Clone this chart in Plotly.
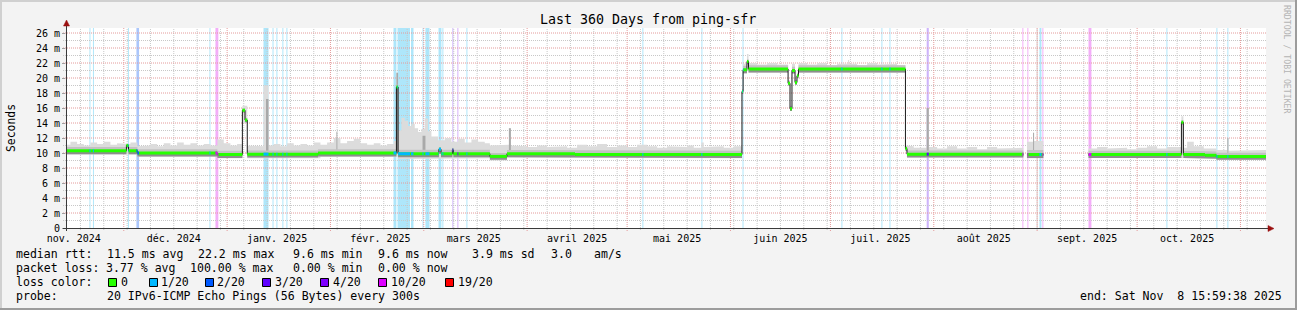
import pandas as pd
import plotly.graph_objects as go

FONT = "DejaVu Sans Mono"
T_START = "2024-11-13 16:00"
T_END = "2025-11-08 16:00"
Y_TOP = 26.667

# ---------------- data ----------------
# median rtt (ms), step function; None = no data
median_t = [
    "2024-11-13 16:00", "2024-12-01 19:00", "2024-12-02 10:00", "2024-12-05 02:00",
    "2024-12-29 02:00", "2025-01-05 14:00", "2025-01-06 09:00", "2025-01-07 01:00",
    "2025-01-28 07:00", "2025-02-20 19:00", "2025-02-21 07:00", "2025-03-05 13:00",
    "2025-03-06 04:00", "2025-03-09 14:00", "2025-03-09 21:00", "2025-03-20 20:00",
    "2025-03-25 23:00", "2025-04-15 09:00", "2025-06-04 11:00", "2025-06-04 19:00",
    "2025-06-05 23:00", "2025-06-06 10:00", "2025-06-18 07:00", "2025-06-18 21:00",
    "2025-06-19 11:00", "2025-06-20 09:00", "2025-06-20 23:00", "2025-06-21 10:00",
    "2025-07-23 12:00", "2025-07-23 23:00", "2025-08-27 21:00", "2025-08-28 23:00",
    "2025-09-02 21:00", "2025-09-16 10:00", "2025-10-14 07:00", "2025-10-14 21:00",
    "2025-10-21 09:00", "2025-10-24 19:00",
]
median_ms = [
    10.3, 11.0, 10.3, 10.0,
    9.8, 15.7, 14.4, 9.85,
    10.0, 18.8, 9.9, 10.5,
    9.9, 10.4, 9.9, 9.55,
    9.9, 9.8, 18.2, 21.1,
    22.2, 21.2, 19.3, 15.9,
    21.0, 19.4, 20.3, 21.2,
    10.6, 9.85, None, 9.8,
    None, 9.8, 14.1, 9.8,
    9.7, 9.55,
]
# inner smoke band around the median (ms)
band_hi_ms = [
    10.8, 11.2, 10.8, 10.5,
    10.3, 16.0, 14.7, 10.35,
    10.5, 19.1, 10.45, 10.8,
    10.45, 10.7, 10.45, 10.0,
    10.4, 10.3, 18.5, 21.65,
    22.5, 21.7, 19.6, 16.2,
    21.5, 19.7, 20.6, 21.7,
    10.9, 10.35, None, 10.4,
    None, 10.3, 14.4, 10.3,
    10.2, 10.05,
]
band_lo_ms = [
    9.85, 10.7, 9.85, 9.55,
    9.35, 15.4, 14.1, 9.4,
    9.55, 18.5, 9.45, 10.2,
    9.45, 10.1, 9.45, 9.1,
    9.45, 9.35, 17.9, 20.65,
    21.9, 20.75, 19.0, 15.6,
    20.6, 19.1, 20.0, 20.75,
    10.3, 9.4, None, 9.35,
    None, 9.35, 13.8, 9.35,
    9.25, 9.1,
]

# outer smoke envelope (ms), step function
smoke_t = [
    "2024-11-13 16:00", "2024-11-15 00:00", "2024-11-17 00:00", "2024-11-19 00:00",
    "2024-11-21 00:00", "2024-11-23 00:00", "2024-11-25 00:00", "2024-11-27 00:00",
    "2024-11-29 00:00", "2024-12-01 00:00", "2024-12-03 00:00", "2024-12-05 02:00",
    "2024-12-07 00:00", "2024-12-09 00:00", "2024-12-11 00:00", "2024-12-13 00:00",
    "2024-12-15 00:00", "2024-12-17 00:00", "2024-12-19 00:00", "2024-12-21 00:00",
    "2024-12-23 00:00", "2024-12-25 00:00", "2024-12-27 00:00", "2024-12-29 02:00",
    "2024-12-31 00:00", "2025-01-02 00:00", "2025-01-04 00:00", "2025-01-05 14:00",
    "2025-01-07 01:00", "2025-01-09 00:00", "2025-01-11 22:00", "2025-01-13 10:00",
    "2025-01-15 00:00", "2025-01-17 00:00", "2025-01-19 00:00", "2025-01-21 00:00",
    "2025-01-23 00:00", "2025-01-25 00:00", "2025-01-27 00:00", "2025-01-29 00:00",
    "2025-01-31 00:00", "2025-02-02 00:00", "2025-02-04 00:00", "2025-02-06 00:00",
    "2025-02-08 00:00", "2025-02-10 00:00", "2025-02-12 00:00", "2025-02-14 00:00",
    "2025-02-16 00:00", "2025-02-18 00:00", "2025-02-20 00:00", "2025-02-20 19:00",
    "2025-02-21 07:00", "2025-02-22 07:00", "2025-02-23 07:00", "2025-02-24 07:00",
    "2025-02-25 07:00", "2025-02-26 07:00", "2025-02-27 07:00", "2025-02-28 07:00",
    "2025-03-01 07:00", "2025-03-02 07:00", "2025-03-03 07:00", "2025-03-05 07:00",
    "2025-03-07 07:00", "2025-03-09 07:00", "2025-03-11 07:00", "2025-03-13 07:00",
    "2025-03-15 07:00", "2025-03-17 07:00", "2025-03-19 07:00", "2025-03-20 20:00",
    "2025-03-25 23:00", "2025-03-26 13:00", "2025-03-27 03:00", "2025-03-29 00:00",
    "2025-04-01 00:00", "2025-04-04 00:00", "2025-04-07 00:00", "2025-04-10 00:00",
    "2025-04-13 00:00", "2025-04-16 00:00", "2025-04-19 00:00", "2025-04-22 00:00",
    "2025-04-25 00:00", "2025-04-28 00:00", "2025-05-01 00:00", "2025-05-04 00:00",
    "2025-05-07 00:00", "2025-05-10 00:00", "2025-05-13 00:00", "2025-05-16 00:00",
    "2025-05-19 00:00", "2025-05-21 00:00", "2025-05-23 07:00", "2025-05-24 00:00",
    "2025-05-27 00:00", "2025-05-30 00:00", "2025-06-02 00:00", "2025-06-04 11:00",
    "2025-06-04 19:00", "2025-06-05 23:00", "2025-06-06 10:00", "2025-06-09 00:00",
    "2025-06-12 00:00", "2025-06-15 00:00", "2025-06-18 07:00", "2025-06-18 21:00",
    "2025-06-19 11:00", "2025-06-20 09:00", "2025-06-20 23:00", "2025-06-21 10:00",
    "2025-06-24 00:00", "2025-06-27 00:00", "2025-06-30 00:00", "2025-07-03 00:00",
    "2025-07-06 07:00", "2025-07-06 14:00", "2025-07-09 00:00", "2025-07-12 00:00",
    "2025-07-15 00:00", "2025-07-18 00:00", "2025-07-21 00:00", "2025-07-23 12:00",
    "2025-07-23 23:00", "2025-07-26 00:00", "2025-07-29 21:00", "2025-07-30 12:00",
    "2025-08-02 00:00", "2025-08-05 00:00", "2025-08-08 00:00", "2025-08-11 00:00",
    "2025-08-14 00:00", "2025-08-17 00:00", "2025-08-20 00:00", "2025-08-23 00:00",
    "2025-08-27 21:00", "2025-08-28 23:00", "2025-08-30 19:00", "2025-08-31 02:00",
    "2025-09-02 21:00", "2025-09-16 10:00", "2025-09-19 00:00", "2025-09-22 00:00",
    "2025-09-25 00:00", "2025-09-28 00:00", "2025-10-01 00:00", "2025-10-04 00:00",
    "2025-10-07 00:00", "2025-10-10 00:00", "2025-10-14 07:00", "2025-10-14 21:00",
    "2025-10-16 00:00", "2025-10-18 00:00", "2025-10-21 00:00", "2025-10-24 19:00",
    "2025-10-28 02:00", "2025-10-28 09:00", "2025-10-31 00:00", "2025-11-03 00:00",
    "2025-11-06 00:00",
]
smoke_hi_ms = [
    11.1, 11.5, 11.2, 11.0, 11.4, 11.2, 11.5, 11.1, 11.3, 11.2, 11.4, 10.9,
    11.0, 11.2, 10.9, 11.3, 11.0, 11.4, 11.1, 11.3, 11.0, 11.2, 11.0, 11.8,
    11.3, 11.0, 11.2, 16.3, 11.0, 10.9, 19.0, 11.0, 11.2, 10.9, 11.3, 11.0,
    11.2, 11.0, 11.4, 11.1, 11.4, 12.0, 11.3, 11.6, 11.9, 11.3, 11.1, 11.3,
    11.0, 11.2, 11.6, 20.7, 13.0, 14.7, 14.3, 13.6, 13.9, 13.3, 12.8, 13.2,
    14.6, 12.9, 12.2, 11.7, 12.0, 11.5, 11.9, 11.4, 11.8, 11.5, 11.3, 11.0,
    11.1, 13.3, 11.0, 10.9, 10.8, 11.0, 10.8, 10.9, 10.7, 11.1, 10.9, 11.2,
    10.8, 11.0, 10.8, 11.1, 10.9, 10.7, 10.9, 10.8, 11.0, 10.7, 11.4, 10.8,
    10.9, 10.7, 10.9, 18.5, 21.9, 23.2, 22.0, 21.8, 22.0, 21.8, 19.7, 16.3,
    21.9, 19.8, 20.7, 22.0, 21.8, 22.0, 21.7, 21.9, 22.4, 21.9, 21.7, 22.0,
    21.8, 21.9, 21.7, 11.0, 10.9, 10.7, 16.0, 10.8, 10.6, 10.9, 10.6, 10.8,
    10.5, 10.8, 10.6, 10.7, None, 11.5, 12.7, 11.6, None, 10.6, 10.8, 10.6,
    10.7, 10.5, 10.7, 10.9, 10.6, 10.8, 14.9, 10.7, 11.5, 10.9, 10.6, 10.4,
    12.0, 10.3, 10.4, 10.3, 10.4,
]
smoke_lo_ms = [
    9.8, 9.8, 9.8, 9.8, 9.8, 9.8, 9.8, 9.8, 9.8, 9.8, 9.8, 9.5,
    9.5, 9.5, 9.5, 9.5, 9.5, 9.5, 9.5, 9.5, 9.5, 9.5, 9.5, 9.3,
    9.3, 9.3, 9.3, 14.0, 9.3, 9.3, 9.3, 9.3, 9.3, 9.3, 9.3, 9.3,
    9.3, 9.3, 9.3, 9.5, 9.5, 9.5, 9.5, 9.5, 9.5, 9.5, 9.5, 9.5,
    9.5, 9.5, 9.5, 9.5, 9.2, 9.2, 9.2, 9.2, 9.2, 9.2, 9.2, 9.2,
    9.2, 9.2, 9.2, 9.3, 9.3, 9.3, 9.3, 9.3, 9.3, 9.3, 9.3, 9.0,
    9.4, 9.4, 9.4, 9.4, 9.4, 9.4, 9.4, 9.4, 9.4, 9.3, 9.3, 9.3,
    9.3, 9.3, 9.3, 9.3, 9.3, 9.3, 9.3, 9.3, 9.3, 9.3, 9.3, 9.3,
    9.3, 9.3, 9.3, 17.9, 20.6, 21.8, 20.7, 20.7, 20.7, 20.7, 19.0, 15.6,
    20.7, 19.1, 19.9, 20.7, 20.7, 20.7, 20.7, 20.7, 20.7, 20.7, 20.7, 20.7,
    20.7, 20.7, 20.7, 10.2, 9.4, 9.4, 9.4, 9.4, 9.4, 9.4, 9.4, 9.4,
    9.4, 9.4, 9.4, 9.4, None, 9.3, 9.3, 9.3, None, 9.4, 9.4, 9.4,
    9.4, 9.4, 9.4, 9.4, 9.4, 9.4, 9.4, 9.4, 9.4, 9.4, 9.3, 9.1,
    9.1, 9.1, 9.1, 9.1, 9.1,
]

# darker smoke columns (short bursts)
spike_t0 = ["2025-01-12 16:00", "2025-02-02 19:00", "2025-02-20 19:00", "2025-02-28 15:00",
            "2025-03-26 13:00", "2025-07-29 21:00", "2025-08-30 19:00", "2025-10-28 02:00"]
spike_t1 = ["2025-01-13 10:00", "2025-02-03 02:00", "2025-02-21 07:00", "2025-03-01 12:00",
            "2025-03-27 03:00", "2025-07-30 12:00", "2025-08-31 02:00", "2025-10-28 09:00"]
spike_top_ms = [17.2, 12.8, 20.7, 12.3, 13.3, 16.0, 12.7, 12.0]
spike_base_ms = [9.6, 10.0, 10.0, 9.6, 9.6, 9.6, 9.6, 9.4]

# packet-loss periods (lost pings out of 20)
loss_t0 = [
    "2024-11-20 17:00", "2024-11-21 18:00", "2024-12-02 06:00", "2024-12-04 19:00",
    "2024-12-26 17:00", "2024-12-28 12:00", "2025-01-11 22:00", "2025-01-14 15:00",
    "2025-01-15 19:00", "2025-01-17 14:00", "2025-01-18 19:00", "2025-02-19 22:00",
    "2025-02-21 03:00", "2025-02-25 04:00", "2025-02-28 15:00", "2025-03-01 12:00",
    "2025-03-05 10:00", "2025-03-06 14:00", "2025-03-09 14:00", "2025-03-11 02:00",
    "2025-03-13 19:00", "2025-05-05 14:00", "2025-05-23 07:00", "2025-06-04 15:00",
    "2025-07-04 07:00", "2025-07-16 07:00", "2025-07-18 17:00", "2025-07-29 21:00",
    "2025-08-27 14:00", "2025-08-29 02:00", "2025-09-01 17:00", "2025-09-02 14:00",
    "2025-09-16 10:00", "2025-10-09 19:00", "2025-10-24 19:00", "2025-10-28 02:00",
]
loss_t1 = [
    "2024-11-21 00:00", "2024-11-22 01:00", "2024-12-02 13:00", "2024-12-05 14:00",
    "2024-12-27 00:00", "2024-12-29 09:00", "2025-01-13 10:00", "2025-01-14 22:00",
    "2025-01-16 02:00", "2025-01-17 21:00", "2025-01-19 02:00", "2025-02-20 19:00",
    "2025-02-24 21:00", "2025-02-25 22:00", "2025-02-28 22:00", "2025-03-02 17:00",
    "2025-03-06 07:00", "2025-03-06 21:00", "2025-03-09 21:00", "2025-03-11 09:00",
    "2025-03-14 02:00", "2025-05-05 21:00", "2025-05-23 14:00", "2025-06-04 22:00",
    "2025-07-04 14:00", "2025-07-16 14:00", "2025-07-19 00:00", "2025-07-30 12:00",
    "2025-08-27 21:00", "2025-08-29 09:00", "2025-09-02 07:00", "2025-09-02 21:00",
    "2025-09-17 07:00", "2025-10-10 02:00", "2025-10-25 02:00", "2025-10-28 09:00",
]
loss_pings = [1, 1, 1, 2, 1, 10, 1, 1, 1, 1, 1, 1,
              1, 1, 1, 1, 1, 1, 3, 4, 1, 1, 1, 1,
              1, 1, 1, 3, 10, 10, 1, 10, 10, 1, 1, 1]

loss_steps = [0, 1, 2, 3, 4, 10, 19]
loss_labels = ["0", "1/20", "2/20", "3/20", "4/20", "10/20", "19/20"]
loss_colors = ["#26ff00", "#00b8ff", "#0059ff", "#5e00ff", "#7e00ff", "#dd00ff", "#ff0000"]
loss_bg_colors = ["#c9ffbf", "#aee6fa", "#abc6fb", "#cdb3fb", "#d6b0fb", "#f3aef8", "#ffb0b0"]

month_starts = ["2024-12-01", "2025-01-01", "2025-02-01", "2025-03-01", "2025-04-01", "2025-05-01",
                "2025-06-01", "2025-07-01", "2025-08-01", "2025-09-01", "2025-10-01", "2025-11-01"]
month_label_at = ["2024-11-16", "2024-12-16", "2025-01-16", "2025-02-16", "2025-03-16", "2025-04-16",
                  "2025-05-16", "2025-06-16", "2025-07-16", "2025-08-16", "2025-09-16", "2025-10-16"]
month_labels = ["nov. 2024", "déc. 2024", "janv. 2025", "févr. 2025", "mars 2025", "avril 2025",
                "mai 2025", "juin 2025", "juil. 2025", "août 2025", "sept. 2025", "oct. 2025"]
week_grid = list(pd.date_range("2024-11-18", T_END, freq="7D"))

y_major = [0, 2, 4, 6, 8, 10, 12, 14, 16, 18, 20, 22, 24, 26]
y_major_text = ["0"] + [f"{v} m" for v in y_major[1:]]
y_minor = [1, 3, 5, 7, 9, 11, 13, 15, 17, 19, 21, 23, 25]

stats_rtt = ["median rtt:", "11.5 ms avg", "22.2 ms max", "9.6 ms min", "9.6 ms now",
             "3.9 ms sd", "3.0", "am/s"]
stats_loss = ["packet loss:", "3.77 % avg", "100.00 % max", "0.00 % min", "0.00 % now"]
probe_text = ["probe:", "20 IPv6-ICMP Echo Pings (56 Bytes) every 300s"]
end_text = "end: Sat Nov\u00a0\u00a08 15:59:38 2025"
title_text = "Last 360 Days from ping-sfr"

# ---------------- geometry helpers (pixel -> paper) ----------------
W, H = 1297, 310
PL, PR, PT, PB = 66, 1266, 28, 228


def px(x):
    return (x - PL) / (PR - PL)


def py(y):
    return (PB - y) / (PB - PT)


def step_runs(t, cols, t_end):
    tt = list(pd.to_datetime(t)) + [pd.Timestamp(t_end)]
    runs, cur = [], []
    for i in range(len(t)):
        if cols[0][i] is None:
            if cur:
                runs.append(cur)
                cur = []
            continue
        cur.append((tt[i], tt[i + 1], [c[i] for c in cols]))
    if cur:
        runs.append(cur)
    return runs


def band_path(runs, hi, lo):
    xs, ys = [], []
    for run in runs:
        for a, b, v in run:
            xs += [a, b]
            ys += [v[hi], v[hi]]
        for a, b, v in reversed(run):
            xs += [b, a]
            ys += [v[lo], v[lo]]
        xs += [run[0][0], None]
        ys += [run[0][2][hi], None]
    return xs, ys


fig = go.Figure()

# outer smoke
smoke_runs = step_runs(smoke_t, [smoke_hi_ms, smoke_lo_ms], T_END)
sx, sy = band_path(smoke_runs, 0, 1)
fig.add_trace(go.Scatter(x=sx, y=sy, mode="lines", fill="toself", fillcolor="#dcdcdc",
                         line=dict(width=0), hoverinfo="skip", showlegend=False))

# darker smoke bursts
kx, ky = [], []
for a, b, top, base in zip(pd.to_datetime(spike_t0), pd.to_datetime(spike_t1), spike_top_ms, spike_base_ms):
    kx += [a, b, b, a, a, None]
    ky += [base, base, top, top, base, None]
fig.add_trace(go.Scatter(x=kx, y=ky, mode="lines", fill="toself", fillcolor="#a9a9a9",
                         line=dict(width=0), hoverinfo="skip", showlegend=False))

# inner smoke band
med_runs = step_runs(median_t, [median_ms, band_hi_ms, band_lo_ms], T_END)
ux, uy = band_path(med_runs, 1, 0)
fig.add_trace(go.Scatter(x=ux, y=uy, mode="lines", fill="toself", fillcolor="#c2c2c2",
                         line=dict(width=0), hoverinfo="skip", showlegend=False))
lx, ly = band_path(med_runs, 0, 2)
fig.add_trace(go.Scatter(x=lx, y=ly, mode="lines", fill="toself", fillcolor="#8e8e8e",
                         line=dict(width=0), hoverinfo="skip", showlegend=False))

# median line (dark)
mx, my = [], []
for run in med_runs:
    for a, b, v in run:
        mx += [a, b]
        my += [v[0], v[0]]
    mx.append(None)
    my.append(None)
fig.add_trace(go.Scatter(x=mx, y=my, mode="lines", line=dict(color="#1a1a1a", width=1),
                         hoverinfo="skip", showlegend=False))

# median band coloured by loss (0 loss = green)
gx, gy = [], []
for run in med_runs:
    for a, b, v in run:
        gx += [a, b, None]
        gy += [v[0], v[0], None]
fig.add_trace(go.Scatter(x=gx, y=gy, mode="lines", line=dict(color=loss_colors[0], width=3),
                         hoverinfo="skip", showlegend=False))


def median_pieces(a, b):
    out = []
    for run in med_runs:
        for s, e, v in run:
            lo, hi = max(s, a), min(e, b)
            if lo < hi:
                out.append((lo, hi, v[0]))
    return out


for lvl_i, lvl in enumerate(loss_steps):
    cx, cy = [], []
    for a, b, n in zip(pd.to_datetime(loss_t0), pd.to_datetime(loss_t1), loss_pings):
        if n != lvl:
            continue
        for s, e, v in median_pieces(a, b):
            cx += [s, e, None]
            cy += [v, v, None]
    if cx:
        fig.add_trace(go.Scatter(x=cx, y=cy, mode="lines", line=dict(color=loss_colors[lvl_i], width=3),
                                 hoverinfo="skip", showlegend=False))

shapes = []
# loss background bars
for a, b, n in zip(loss_t0, loss_t1, loss_pings):
    shapes.append(dict(type="rect", xref="x", yref="paper", x0=a, x1=b, y0=0, y1=1,
                       fillcolor=loss_bg_colors[loss_steps.index(n)], line=dict(width=0), layer="below"))

GRID_MINOR = "#c8c8c8"
GRID_MAJOR = "#e49a9a"
DASH = "1px,1px"
# weekly grid (minor, gray dotted) + tick
for w in week_grid:
    shapes.append(dict(type="line", xref="x", yref="paper", x0=w, x1=w, y0=py(230), y1=1,
                       line=dict(color=GRID_MINOR, width=1, dash=DASH), layer="below"))
# horizontal grid
for v in y_minor:
    shapes.append(dict(type="line", xref="paper", yref="y", x0=px(63), x1=1, y0=v, y1=v,
                       line=dict(color=GRID_MINOR, width=1, dash=DASH), layer="below"))
for v in y_major[1:]:
    shapes.append(dict(type="line", xref="paper", yref="y", x0=px(63), x1=1, y0=v, y1=v,
                       line=dict(color=GRID_MAJOR, width=1, dash=DASH), layer="below"))
# month grid lines (major, red dotted) + tick
for m in month_starts:
    shapes.append(dict(type="line", xref="x", yref="paper", x0=m, x1=m, y0=py(231), y1=1,
                       line=dict(color=GRID_MAJOR, width=1, dash=DASH), layer="below"))

# axis lines and arrows
AX = "#3a3a3a"
shapes.append(dict(type="line", xref="paper", yref="paper", x0=px(66.5), x1=px(66.5), y0=py(231), y1=py(24),
                   line=dict(color=AX, width=1), layer="above"))
shapes.append(dict(type="line", xref="paper", yref="paper", x0=px(63), x1=px(1270), y0=py(228.5), y1=py(228.5),
                   line=dict(color=AX, width=1), layer="above"))
ARW = "#9a1010"
shapes.append(dict(type="path", xref="paper", yref="paper",
                   path=f"M {px(66.5)},{py(20)} L {px(63.5)},{py(26)} L {px(69.5)},{py(26)} Z",
                   fillcolor=ARW, line=dict(color=ARW, width=0.5), layer="above"))
shapes.append(dict(type="path", xref="paper", yref="paper",
                   path=f"M {px(1274)},{py(228.5)} L {px(1268)},{py(225.5)} L {px(1268)},{py(231.5)} Z",
                   fillcolor=ARW, line=dict(color=ARW, width=0.5), layer="above"))

# image frame (3D shade)
shapes.append(dict(type="rect", xref="paper", yref="paper", x0=px(0), x1=px(W), y0=py(2), y1=py(0),
                   fillcolor="#d0d0d0", line=dict(width=0), layer="above"))
shapes.append(dict(type="rect", xref="paper", yref="paper", x0=px(0), x1=px(2), y0=py(H), y1=py(0),
                   fillcolor="#d0d0d0", line=dict(width=0), layer="above"))
shapes.append(dict(type="rect", xref="paper", yref="paper", x0=px(W - 2), x1=px(W), y0=py(H), y1=py(0),
                   fillcolor="#9c9c9c", line=dict(width=0), layer="above"))
shapes.append(dict(type="rect", xref="paper", yref="paper", x0=px(0), x1=px(W), y0=py(H), y1=py(H - 2),
                   fillcolor="#9c9c9c", line=dict(width=0), layer="above"))

# loss colour legend boxes
box_x = [108, 149, 205, 262, 320, 378, 445]
lab_x = [121, 161, 217, 275, 333, 391, 458]
for bx, c in zip(box_x, loss_colors):
    shapes.append(dict(type="rect", xref="paper", yref="paper", x0=px(bx + 0.5), x1=px(bx + 8.5),
                       y0=py(286.5), y1=py(278.5), fillcolor=c, line=dict(color="#000", width=1), layer="above"))

ann = []
LEG = 11.55


def label(text, x, y, size=LEG, anchor="left", color="#000", angle=0):
    ann.append(dict(text=text, x=px(x), y=py(y), xref="paper", yref="paper", xanchor=anchor,
                    yanchor="middle", showarrow=False, textangle=angle, borderpad=0, borderwidth=0,
                    font=dict(family=FONT, size=size, color=color)))


label(title_text, 648, 19, size=13.3, anchor="center")
label("Seconds", 11, 128, size=11.4, anchor="center", angle=-90)
label("RRDTOOL / TOBI OETIKER", 1287, 59, size=8.2, anchor="center", color="#b4b4b4", angle=90)

for t, x in zip(stats_rtt, [16, 107, 198, 293, 378, 472, 551, 594]):
    label(t, x, 254)
for t, x in zip(stats_loss, [16, 106, 190, 293, 378]):
    label(t, x, 268)
label("loss color:", 16, 282)
for t, x in zip(loss_labels, lab_x):
    label(t, x, 282)
label(probe_text[0], 16, 296)
label(probe_text[1], 107, 296)
label(end_text, 1282, 296, anchor="right")

fig.update_layout(
    width=W, height=H, autosize=False,
    margin=dict(l=PL, r=W - PR, t=PT, b=H - PB, pad=0),
    paper_bgcolor="#f3f3f3", plot_bgcolor="#ffffff",
    showlegend=False, hovermode=False,
    shapes=shapes, annotations=ann,
    font=dict(family=FONT, size=10, color="#000"),
    xaxis=dict(
        type="date", range=[T_START, T_END], showline=False, zeroline=False, showgrid=False,
        tickmode="array", tickvals=month_label_at, ticktext=month_labels, ticks="",
        ticklabelstandoff=3,
        tickfont=dict(family=FONT, size=10, color="#000"), fixedrange=True,
    ),
    yaxis=dict(
        range=[0, Y_TOP], showline=False, zeroline=False, showgrid=False,
        tickmode="array", tickvals=y_major, ticktext=y_major_text,
        ticks="outside", ticklen=3, tickcolor="#a0a0a0",
        tickfont=dict(family=FONT, size=10, color="#000"), fixedrange=True,
    ),
)

fig.write_html("out.html")
